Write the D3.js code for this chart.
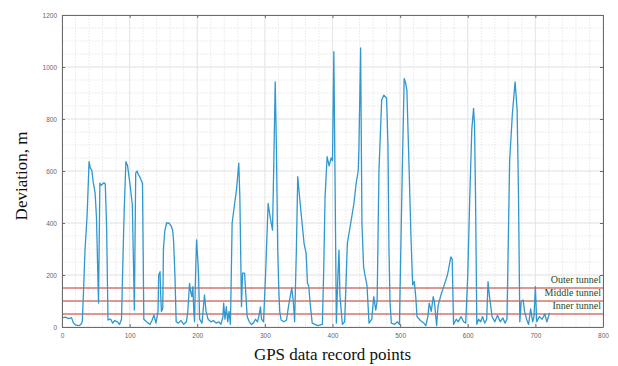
<!DOCTYPE html>
<html>
<head>
<meta charset="utf-8">
<script src="https://cdn.jsdelivr.net/npm/d3@7/dist/d3.min.js"></script>
<style>
    body { margin: 0; background: #fff; }
    svg { display: block; }
</style>
</head>
<body>
<div id="chart"></div>
<script>
// record index and deviation (m)
var recordX = [0, 5, 10, 14, 17, 20, 25, 28, 30, 32, 34, 37, 39, 40, 42, 44, 46, 49, 51, 54,
    56, 58, 62, 64, 66, 68, 72, 75, 78, 82, 85, 88, 90, 92, 94.5, 97, 100, 104, 107, 109,
    111, 113, 115, 117, 119, 121, 125, 130, 133, 136, 139, 142, 143, 145, 146, 147, 149, 150, 152, 154.6,
    158, 161, 163.6, 165, 167, 168.8, 172, 176, 180, 184, 186, 188.6, 190, 192, 193.5, 195, 196, 197.5, 199, 201,
    202, 203.5, 207, 210.7, 213, 216, 220, 224, 228, 232, 235, 238, 239, 241, 243, 245, 247, 249, 250, 251.6,
    255, 258, 261.4, 263, 265.4, 267, 270, 272, 273.8, 277, 280, 283, 286, 289, 291, 293.5, 295, 298, 301, 304.8,
    308, 311.3, 313, 315.3, 317, 319, 320.6, 322, 324, 328, 332, 335, 339.7, 342, 344, 346.6, 348.6, 352, 355, 358,
    361, 363, 365, 366.5, 368, 370, 374, 378, 382, 385, 387, 389, 392, 395, 398, 400, 402, 404, 405.7, 408,
    409.6, 411, 414.6, 418, 422, 427, 431.7, 435, 438, 439, 441.6, 443.5, 446, 448, 451, 454, 458, 461, 464, 466,
    468.7, 472.7, 476, 480, 482, 483.5, 485, 487, 492, 496, 499, 500, 503, 506, 508, 510, 513.6, 516, 518.5, 521,
    523, 525, 530, 535, 538, 541, 543, 546, 549, 551, 554, 556, 560, 565, 570, 575, 577, 579, 583, 586,
    590, 594, 597, 600, 603, 606, 608.6, 610, 611.5, 613.4, 616, 619, 622, 625, 628, 630, 632, 634, 636, 640,
    644, 648, 652, 655, 658, 662, 666, 670, 673, 675, 677, 679, 682, 684, 687, 690, 693, 696, 698, 700,
    702, 706, 710, 714, 717, 721];

var deviation = [35, 38, 32, 36, 15, 8, 5, 10, 20, 150, 296, 423, 560, 636, 610, 604, 560, 515, 420, 92,
    553, 545, 555, 550, 380, 27, 30, 15, 25, 20, 10, 30, 250, 450, 636, 620, 560, 470, 65, 592,
    600, 585, 578, 565, 553, 30, 20, 10, 25, 46, 15, 60, 200, 213, 120, 60, 70, 300, 370, 400,
    400, 390, 373, 330, 200, 20, 15, 25, 10, 20, 60, 168, 140, 117, 155, 53, 20, 200, 335, 250,
    194, 30, 15, 123, 60, 30, 20, 25, 15, 20, 10, 40, 92, 30, 78, 20, 60, 10, 150, 400,
    470, 527, 630, 500, 78, 207, 207, 120, 40, 20, 10, 15, 30, 20, 40, 77, 30, 20, 200, 475,
    420, 373, 600, 943, 700, 300, 142, 60, 27, 20, 27, 80, 150, 100, 20, 300, 578, 480, 400, 320,
    284, 169, 155, 104, 65, 15, 10, 5, 8, 10, 219, 500, 655, 620, 650, 640, 1059, 500, 15, 200,
    296, 120, 10, 20, 323, 400, 476, 553, 600, 680, 1073, 400, 230, 200, 160, 15, 30, 117, 65, 100,
    600, 873, 892, 880, 700, 300, 100, 15, 10, 20, 10, 155, 578, 956, 940, 911, 578, 350, 162, 175,
    120, 40, 25, 15, 5, 40, 92, 60, 117, 90, 5, 80, 120, 160, 200, 270, 260, 10, 30, 20,
    40, 20, 15, 200, 500, 760, 841, 780, 500, 10, 30, 20, 40, 15, 30, 174, 120, 80, 40, 20,
    45, 20, 35, 15, 30, 642, 820, 943, 835, 515, 20, 97, 104, 60, 30, 10, 70, 20, 40, 155,
    20, 40, 30, 50, 20, 54];

var tunnelNames = ["Outer tunnel", "Middle tunnel", "Inner tunnel"];
var tunnelLevels = [150, 100, 50];

var xTicks = [0, 100, 200, 300, 400, 500, 600, 700, 800];
var yTicks = [0, 200, 400, 600, 800, 1000, 1200];

(function() {
    var width = 618,
        height = 366,
        margin = {top: 15, right: 15, bottom: 39, left: 62},
        plotW = width - margin.left - margin.right,
        plotH = height - margin.top - margin.bottom,
        tickLen = 3;

    var svg = d3.select("#chart")
                .append("svg")
                .attr("width", width)
                .attr("height", height);

    var x = d3.scaleLinear().domain([0, 800]).range([0, plotW]),
        y = d3.scaleLinear().domain([0, 1200]).range([plotH, 0]);

    var g = svg.append("g")
               .attr("transform", "translate(" + margin.left + "," + margin.top + ")");

    // minor grid, then major grid on top of it
    g.append("g")
     .selectAll("line")
     .data(d3.range(0, 801, 20))
     .join("line")
     .attr("x1", function(d) {return x(d); })
     .attr("x2", function(d) {return x(d); })
     .attr("y1", 0)
     .attr("y2", plotH)
     .attr("stroke", "#e8e8e8")
     .attr("stroke-width", 0.8)
     .attr("stroke-dasharray", "2,1");

    g.append("g")
     .selectAll("line")
     .data(d3.range(0, 1201, 50))
     .join("line")
     .attr("x1", 0)
     .attr("x2", plotW)
     .attr("y1", function(d) {return y(d); })
     .attr("y2", function(d) {return y(d); })
     .attr("stroke", "#e8e8e8")
     .attr("stroke-width", 0.8)
     .attr("stroke-dasharray", "2,1");

    g.append("g")
     .selectAll("line")
     .data(xTicks)
     .join("line")
     .attr("x1", function(d) {return x(d); })
     .attr("x2", function(d) {return x(d); })
     .attr("y1", 0)
     .attr("y2", plotH)
     .attr("stroke", "#e2e2e2")
     .attr("stroke-width", 0.8);

    g.append("g")
     .selectAll("line")
     .data(yTicks)
     .join("line")
     .attr("x1", 0)
     .attr("x2", plotW)
     .attr("y1", function(d) {return y(d); })
     .attr("y2", function(d) {return y(d); })
     .attr("stroke", "#e2e2e2")
     .attr("stroke-width", 0.8);

    // tunnel boundaries
    g.append("g")
     .selectAll("line")
     .data(tunnelLevels)
     .join("line")
     .attr("x1", 0)
     .attr("x2", plotW)
     .attr("y1", function(d) {return y(d); })
     .attr("y2", function(d) {return y(d); })
     .attr("stroke", "#c0392b")
     .attr("stroke-width", 1.1);

    var points = recordX.map(function(d, i) {return [d, deviation[i]]; });

    var line = d3.line()
                 .x(function(d) {return x(d[0]); })
                 .y(function(d) {return y(d[1]); });

    g.append("path")
     .datum(points)
     .attr("d", line)
     .attr("fill", "none")
     .attr("stroke", "#2f98cf")
     .attr("stroke-width", 1.3)
     .attr("stroke-linejoin", "round");

    g.append("g")
     .selectAll("text")
     .data(tunnelNames)
     .join("text")
     .attr("x", plotW - 2)
     .attr("y", function(d, i) {return y(tunnelLevels[i]) - 5; })
     .attr("text-anchor", "end")
     .attr("font-family", "Liberation Serif, serif")
     .attr("font-size", 10)
     .attr("fill", "#1d4a2a")
     .text(function(d) {return d; });

    // axes: ticks inward on all four sides, matlab box style
    var fontTick = "Liberation Sans, Arial, sans-serif",
        fmt = d3.format("d");

    var bottom = g.append("g")
                  .attr("transform", "translate(0," + plotH + ")")
                  .call(d3.axisBottom(x).tickValues(xTicks).tickFormat(fmt).tickSizeInner(-tickLen).tickSizeOuter(0).tickPadding(6));
    var top = g.append("g")
               .call(d3.axisTop(x).tickValues(xTicks).tickSizeInner(-tickLen).tickSizeOuter(0).tickFormat(""));
    var left = g.append("g")
                .call(d3.axisLeft(y).tickValues(yTicks).tickFormat(fmt).tickSizeInner(-tickLen).tickSizeOuter(0).tickPadding(5));
    var right = g.append("g")
                 .attr("transform", "translate(" + plotW + ",0)")
                 .call(d3.axisRight(y).tickValues(yTicks).tickSizeInner(-tickLen).tickSizeOuter(0).tickFormat(""));

    [bottom, top, left, right].forEach(function(a) {
        a.select(".domain").attr("stroke", "#6b6b6b").attr("stroke-width", 1);
        a.selectAll(".tick line").attr("stroke", "#6b6b6b");
        a.selectAll(".tick text")
         .attr("font-family", fontTick)
         .attr("font-size", 6.5)
         .attr("fill", "#666");
    });

    svg.append("text")
       .attr("x", margin.left + plotW / 2)
       .attr("y", 360)
       .attr("text-anchor", "middle")
       .attr("font-family", "Liberation Serif, serif")
       .attr("font-size", 17)
       .attr("fill", "#111")
       .text("GPS data record points");

    svg.append("text")
       .attr("transform", "translate(27," + (margin.top + plotH / 2 + 5) + ") rotate(-90)")
       .attr("text-anchor", "middle")
       .attr("font-family", "Liberation Serif, serif")
       .attr("font-size", 17)
       .attr("fill", "#111")
       .text("Deviation, m");
})();
</script>
</body>
</html>
